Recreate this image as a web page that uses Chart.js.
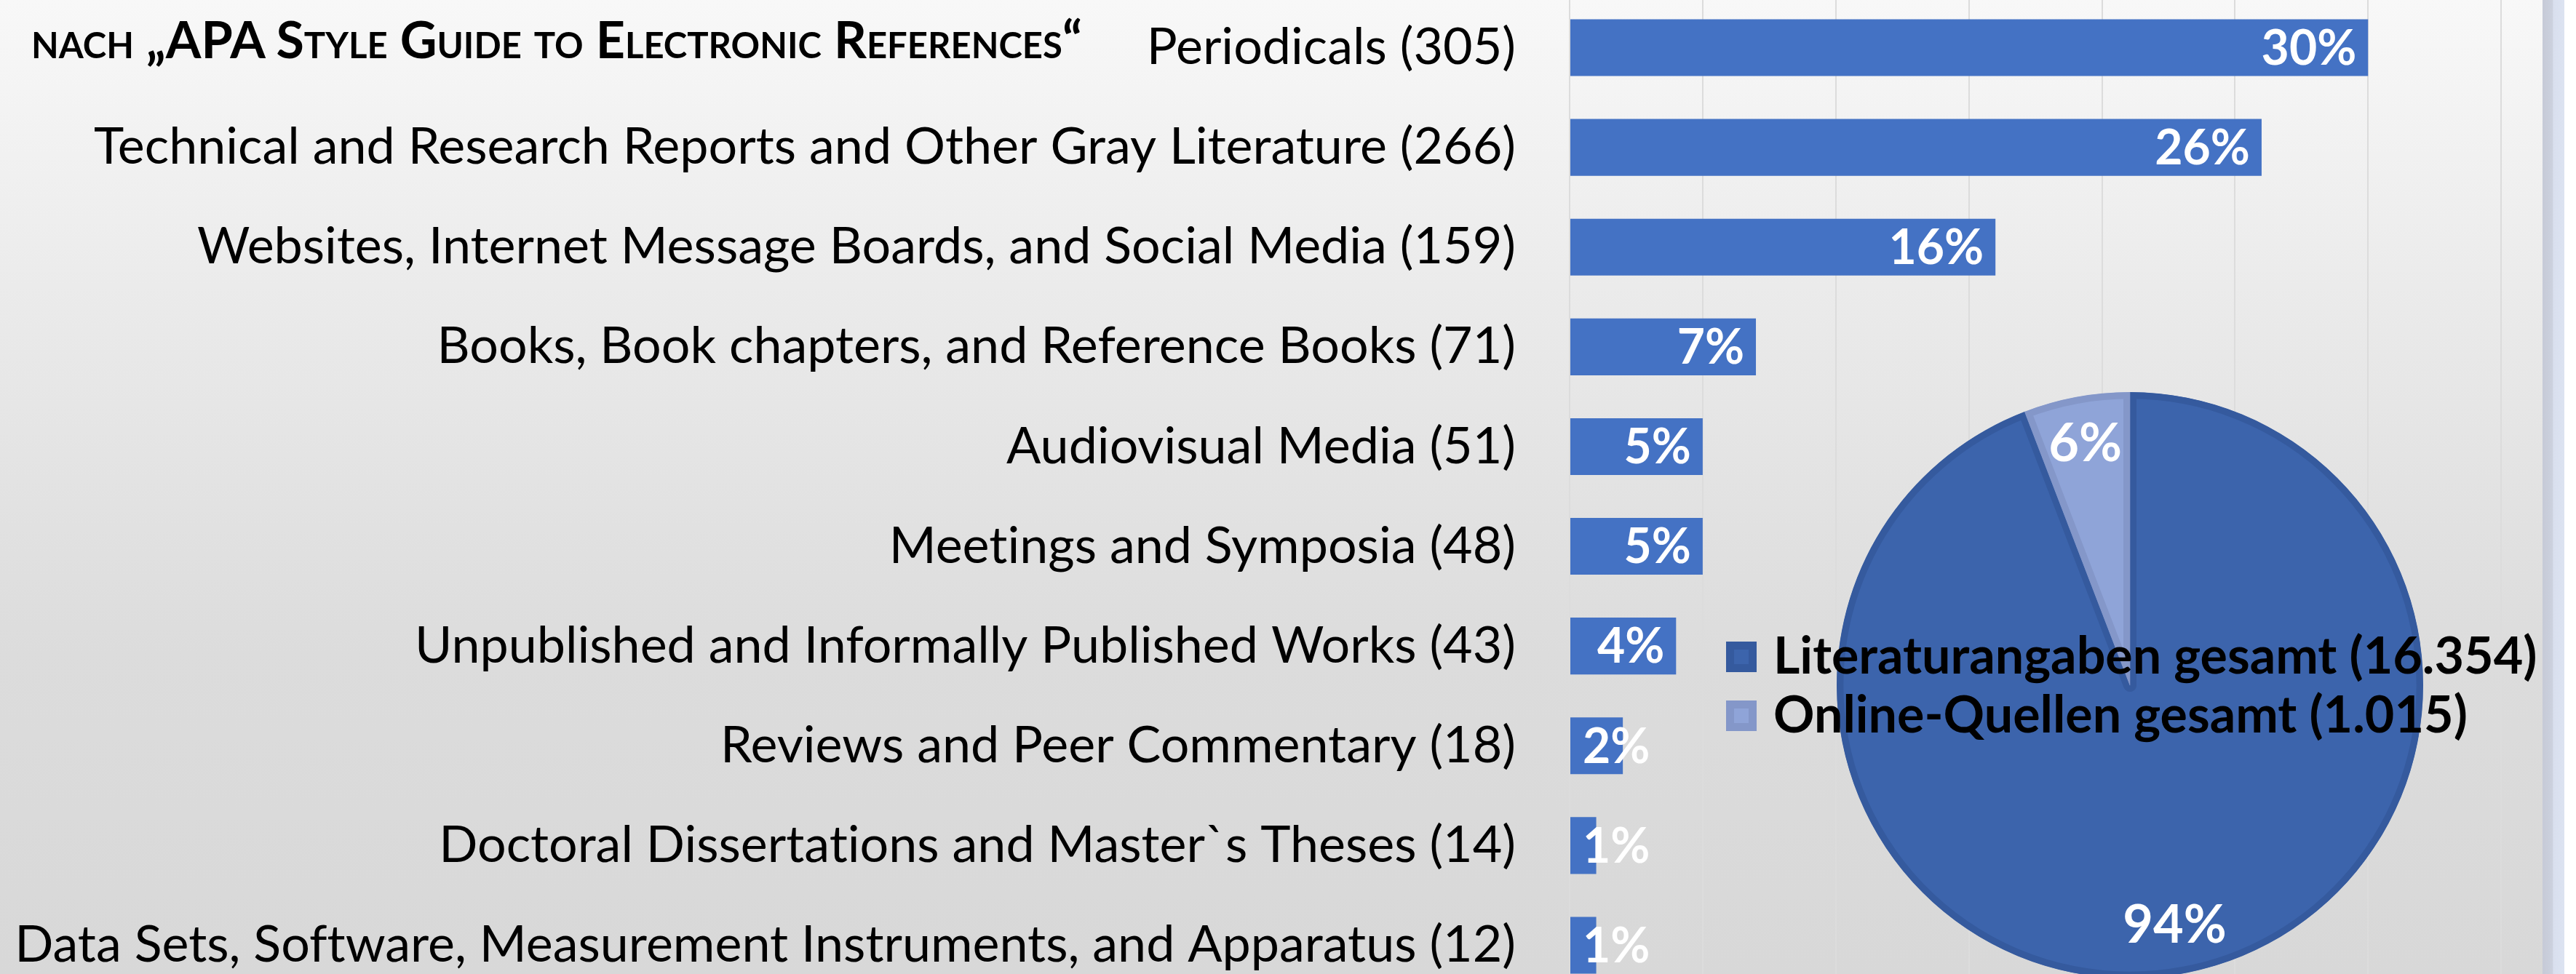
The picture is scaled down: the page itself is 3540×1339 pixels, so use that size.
<!DOCTYPE html>
<html>
<head>
<meta charset="utf-8">
<script src="https://cdn.jsdelivr.net/npm/chart.js@4.4.0/dist/chart.umd.min.js"></script>
<style>
  html, body { margin: 0; padding: 0; }
  body {
    width: 3540px; height: 1339px; overflow: hidden; position: relative;
    background: linear-gradient(to bottom, #f8f8f8 0%, #e9e9e9 34%, #dcdcdc 67%, #d8d8d8 100%);
    font-family: Lato, 'Open Sans', sans-serif;
    font-variant-ligatures: none;
    color: #000;
  }
  #barBox { position: absolute; left: 0; top: -3px; }
  #pieBox { position: absolute; left: 2524px; top: 539px; }
  #title {
    position: absolute; left: 43px; top: 18px;
    font-size: 70px; font-weight: 700; font-variant: small-caps;
    line-height: 1; white-space: nowrap;
  }
  #legend { position: absolute; left: 2372px; top: 858px; }
  .row { display: flex; align-items: center; height: 81px; font-size: 70px; font-weight: 700; white-space: nowrap; }
  .key { width: 42px; height: 42px; box-sizing: border-box; border: 11px solid; margin-right: 23px; margin-top: 8px; }
  #frame {
    position: absolute; left: 3494px; top: 0; width: 30px; height: 1339px;
    background: linear-gradient(to right, #c6cad7, #ccd1de 45%, #d9dfee 50%, #dce3f1);
  }
  #edge { position: absolute; left: 3524px; top: 0; width: 16px; height: 1339px; background: #fff; }
</style>
</head>
<body>
<div id="barBox"><canvas id="bars" width="3620" height="1371"></canvas></div>
<div id="pieBox"><canvas id="pie" width="806" height="806"></canvas></div>
<div id="legend"></div>
<div id="title">nach „APA Style Guide to Electronic References“</div>
<div id="frame"></div>
<div id="edge"></div>

<script>
// bar chart data
const categories = [
    'Periodicals',
    'Technical and Research Reports and Other Gray Literature',
    'Websites, Internet Message Boards, and Social Media',
    'Books, Book chapters, and Reference Books',
    'Audiovisual Media',
    'Meetings and Symposia',
    'Unpublished and Informally Published Works',
    'Reviews and Peer Commentary',
    'Doctoral Dissertations and Master`s Theses',
    'Data Sets, Software, Measurement Instruments, and Apparatus'
];
const counts = [305, 266, 159, 71, 51, 48, 43, 18, 14, 12];
const shares = [30, 26, 16, 7, 5, 5, 4, 2, 1, 1];

// pie chart data
const pieNames = ['Literaturangaben gesamt', 'Online-Quellen gesamt'];
const pieTotals = [16354, 1015];

const barColor = '#4472C4';
const pieFill = ['#3C64AC', '#8FA4D8'];
const pieBorder = ['#355A9E', '#8497C9'];

const barLabels = categories.map((c, i) => `${c} (${counts[i]})`);

function germanNumber(n) {
    return String(n).replace(/\B(?=(\d{3})+(?!\d))/g, '.');
}

// white % labels at the inner end of each bar (pushed to the base when the bar is short)
const barValueLabels = {
    id: 'barValueLabels',
    afterDatasetsDraw(chart) {
        const ctx = chart.ctx;
        const meta = chart.getDatasetMeta(0);
        ctx.save();
        ctx.font = 'bold 66px Lato, "Open Sans", sans-serif';
        ctx.fillStyle = '#fff';
        ctx.textBaseline = 'middle';
        ctx.textAlign = 'left';
        meta.data.forEach((bar, i) => {
            const { x, y, base } = bar.getProps(['x', 'y', 'base'], true);
            const txt = shares[i] + '%';
            const w = ctx.measureText(txt).width;
            const tx = Math.max(x - 16 - w, base + 17);
            ctx.fillText(txt, tx, y + 2);
        });
        ctx.restore();
    }
};

const pieValueLabels = {
    id: 'pieValueLabels',
    afterDatasetsDraw(chart) {
        const ctx = chart.ctx;
        const meta = chart.getDatasetMeta(0);
        const sum = pieTotals.reduce((a, b) => a + b, 0);
        ctx.save();
        ctx.font = 'bold 72px Lato, "Open Sans", sans-serif';
        ctx.fillStyle = '#fff';
        ctx.textBaseline = 'middle';
        ctx.textAlign = 'center';
        meta.data.forEach((arc, i) => {
            const p = arc.getProps(['x', 'y', 'startAngle', 'endAngle', 'outerRadius'], true);
            const mid = (p.startAngle + p.endAngle) / 2;
            const r = p.outerRadius * 0.835;
            const txt = Math.round(pieTotals[i] / sum * 100) + '%';
            ctx.fillText(txt, p.x + Math.cos(mid) * r, p.y + Math.sin(mid) * r);
        });
        ctx.restore();
    }
};

new Chart(document.getElementById('bars'), {
    type: 'bar',
    data: {
        labels: barLabels,
        datasets: [{
            data: shares,
            backgroundColor: barColor,
            borderWidth: 0,
            barPercentage: 0.57,
            categoryPercentage: 1
        }]
    },
    options: {
        indexAxis: 'y',
        responsive: false,
        animation: false,
        events: [],
        layout: { padding: 0 },
        plugins: {
            legend: { display: false },
            tooltip: { enabled: false }
        },
        scales: {
            x: {
                min: 0,
                max: 40,
                ticks: { display: false, stepSize: 5 },
                grid: { color: '#dcdcdc', lineWidth: 2, drawTicks: false },
                border: { display: false }
            },
            y: {
                ticks: {
                    color: '#000',
                    padding: 66,
                    font: { family: 'Lato, "Open Sans", sans-serif', size: 70 }
                },
                grid: { display: false },
                border: { display: false },
                afterFit: (scale) => {
                    // fixed axis width, and no extra room above/below for the labels
                    scale.width = 2157;
                    scale.paddingTop = 0;
                    scale.paddingBottom = 0;
                }
            }
        }
    },
    plugins: [barValueLabels]
});

new Chart(document.getElementById('pie'), {
    type: 'pie',
    data: {
        labels: pieNames,
        datasets: [{
            data: pieTotals,
            backgroundColor: pieFill,
            borderColor: pieBorder,
            borderWidth: 9,
            borderAlign: 'inner',
            offset: 0,
            hoverOffset: 0
        }]
    },
    options: {
        responsive: false,
        animation: false,
        events: [],
        layout: { padding: 0 },
        plugins: {
            legend: { display: false },
            tooltip: { enabled: false }
        }
    },
    plugins: [pieValueLabels]
});

// legend for the pie, drawn over it like in the original slide
const legend = document.getElementById('legend');
pieNames.forEach((name, i) => {
    const row = document.createElement('div');
    row.className = 'row';
    const key = document.createElement('span');
    key.className = 'key';
    key.style.background = pieFill[i];
    key.style.borderColor = pieBorder[i];
    const label = document.createElement('span');
    label.textContent = `${name} (${germanNumber(pieTotals[i])})`;
    row.appendChild(key);
    row.appendChild(label);
    legend.appendChild(row);
});
</script>
</body>
</html>
